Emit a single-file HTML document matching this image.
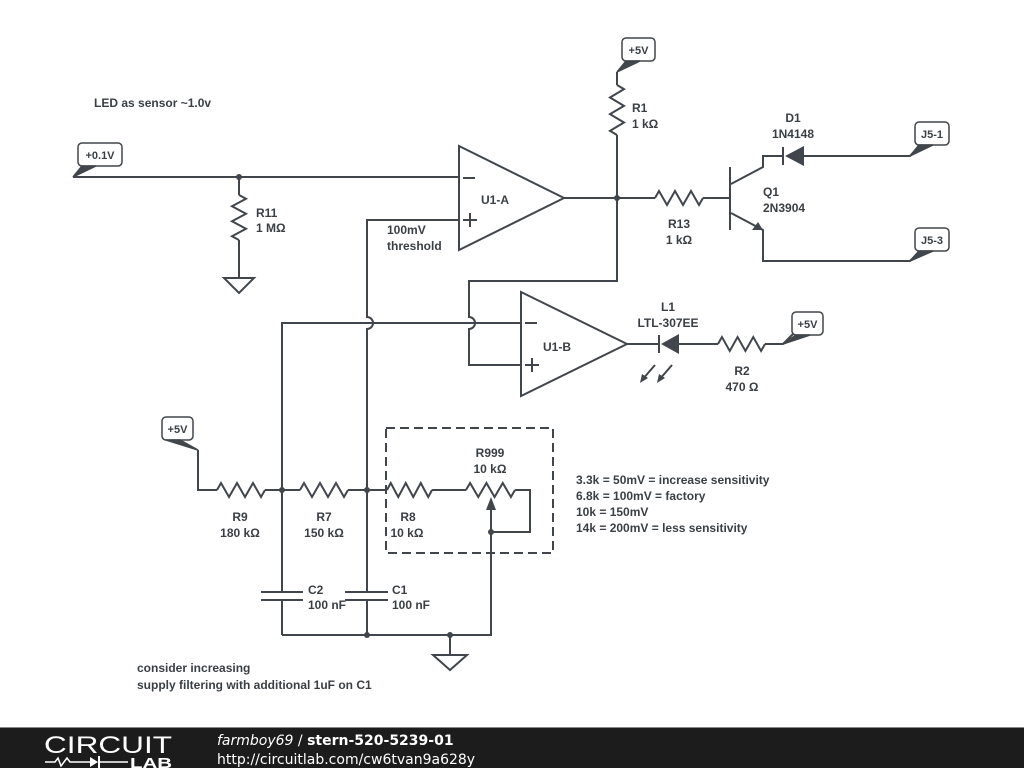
<!DOCTYPE html>
<html><head><meta charset="utf-8"><style>
html,body{margin:0;padding:0;background:#fff;width:1024px;height:768px;overflow:hidden}
svg{display:block}
text{font-family:"Liberation Sans",sans-serif;font-size:12px;font-weight:bold;fill:#3a3f44;stroke:none}
</style></head><body>
<svg id="s" width="1024" height="768" viewBox="0 0 1024 768" xmlns="http://www.w3.org/2000/svg">
<g id="w" stroke="#40464b" stroke-width="2" fill="none">
<path d="M459 146 L564 198 L459 250 Z"/>
<path d="M463 178 h12 M463 220 h14 M470 213 v14"/>
<path d="M73 177 H459"/>
<path d="M239 177 V195 M239 240 V278"/>
<path d="M224 278 H254 L239 293 Z"/>
<path d="M459 220 H367 V317 A6 6 0 0 1 367 329 V592 M367 600 V635"/>
<path d="M564 198 H655 M703 198 H730"/>
<path d="M617 72 V85 M617 135 V281 H469 V317 A6 6 0 0 1 469 329 V365 H521"/>
<path d="M521 292 L627 344 L521 396 Z"/>
<path d="M525 323 h12 M525 365 h14 M532 358 v14"/>
<path d="M282 592 V323 H521 M282 600 V635"/>
<path d="M730 167 V230 M731 184 L763 167 V156 H783 M731 213 L763 230 V261 H910 L920 251"/>
<path d="M783 147 V165"/>
<path d="M804 156 H910 L920 146"/>
<path d="M627 344 H659 M659 335 V353 M679 344 H718 M765 344 H783 L793 334"/>
<path d="M655 365 L642 380 M672 365 L659 380"/>
<path d="M198 450 V490 H217 M265 490 H300 M348 490 H387 M432 490 H466 M515 490 H530 V532 H491 M491 505 V635 H282"/>
<path d="M261 592 H303 M261 600 H303 M345 592 H388 M345 600 H388"/>
<path d="M450 635 V655 M433 655 H467 L450 670 Z"/>
<path d="M386 428 H553 V553 H386 Z" stroke-dasharray="9,5"/>
</g>
<g fill="#40464b">
<circle cx="239" cy="177" r="3"/><circle cx="617" cy="198" r="3"/>
<circle cx="282" cy="490" r="3"/><circle cx="367" cy="490" r="3"/>
<circle cx="367" cy="635" r="3"/><circle cx="450" cy="635" r="3"/><circle cx="491" cy="532" r="3"/>
<polygon points="804,146 804,166 785,156"/>
<polygon points="679,334 679,354 661,344"/>
<polygon points="763,230 752,230 758,222"/>
<polygon points="491,497 486,510 496,510"/>
<polygon points="640,383 642,374 648,378"/>
<polygon points="657,383 659,374 665,378"/>
</g>
<g id="flags" stroke="#40464b" stroke-width="1.5" fill="#fff"></g>
<text x="94" y="107">LED as sensor ~1.0v</text>
<text x="256" y="217">R11</text><text x="256" y="232">1 MΩ</text>
<text x="481" y="204">U1-A</text>
<text x="387" y="234">100mV</text><text x="387" y="250">threshold</text>
<text x="632" y="112">R1</text><text x="632" y="128">1 kΩ</text>
<text x="679" y="228" text-anchor="middle">R13</text><text x="679" y="244" text-anchor="middle">1 kΩ</text>
<text x="763" y="196">Q1</text><text x="763" y="212">2N3904</text>
<text x="793" y="122" text-anchor="middle">D1</text><text x="793" y="138" text-anchor="middle">1N4148</text>
<text x="543" y="351">U1-B</text>
<text x="668" y="311" text-anchor="middle">L1</text><text x="668" y="327" text-anchor="middle">LTL-307EE</text>
<text x="742" y="375" text-anchor="middle">R2</text><text x="742" y="391" text-anchor="middle">470 Ω</text>
<text x="240" y="521" text-anchor="middle">R9</text><text x="240" y="537" text-anchor="middle">180 kΩ</text>
<text x="324" y="521" text-anchor="middle">R7</text><text x="324" y="537" text-anchor="middle">150 kΩ</text>
<text x="408" y="521" text-anchor="middle">R8</text><text x="407" y="537" text-anchor="middle">10 kΩ</text>
<text x="490" y="457" text-anchor="middle">R999</text><text x="490" y="473" text-anchor="middle">10 kΩ</text>
<text x="308" y="594">C2</text><text x="308" y="609">100 nF</text>
<text x="392" y="594">C1</text><text x="392" y="609">100 nF</text>
<text x="576" y="484">3.3k = 50mV = increase sensitivity</text>
<text x="576" y="500">6.8k = 100mV = factory</text>
<text x="576" y="516">10k = 150mV</text>
<text x="576" y="532">14k = 200mV = less sensitivity</text>
<text x="137" y="672">consider increasing</text>
<text x="137" y="689">supply filtering with additional 1uF on C1</text>
<rect x="0" y="728" width="1024" height="40" fill="#1c1c1c"/>
<rect x="0" y="727" width="1024" height="1" fill="#888"/>
<text x="44" y="753" style="font-size:24px;font-weight:normal;fill:#fff" textLength="128" lengthAdjust="spacingAndGlyphs">CIRCUIT</text>
<path d="M45 762 H55 l3 -4 l3 8 l3 -4 l3 -4 l3 4 H90 M100 762 H128" stroke="#fff" stroke-width="1.5" fill="none"/>
<polygon points="90,757 90,767 98,762" fill="#fff"/><rect x="98" y="756" width="2" height="12" fill="#fff"/>
<text x="130" y="768" style="font-size:15px;font-weight:bold;fill:#fff" textLength="42" lengthAdjust="spacingAndGlyphs">LAB</text>
<text x="217" y="745" style="font-family:'DejaVu Sans',sans-serif;font-size:14px;font-weight:normal;fill:#fff"><tspan font-style="italic">farmboy69</tspan> / <tspan font-weight="bold">stern-520-5239-01</tspan></text>
<text x="217" y="764" style="font-family:'DejaVu Sans',sans-serif;font-size:14px;font-weight:normal;fill:#fff">http://circuitlab.com/cw6tvan9a628y</text>
</svg>
<script>
var NS="http://www.w3.org/2000/svg",w=document.getElementById("w");
function p(d){var e=document.createElementNS(NS,"path");e.setAttribute("d",d);w.appendChild(e);}
function zh(x1,x2,y){var s=(x2-x1)/12,d="M"+x1+" "+y;[1,3,5,7,9,11].forEach(function(k,i){d+=" L"+(x1+k*s)+" "+(y+(i%2?7:-7));});d+=" L"+x2+" "+y;p(d);}
function zv(x,y1,y2){var s=(y2-y1)/12,d="M"+x+" "+y1;[1,3,5,7,9,11].forEach(function(k,i){d+=" L"+(x+(i%2?-7:7))+" "+(y1+k*s);});d+=" L"+x+" "+y2;p(d);}
zv(239,195,240);zv(617,85,135);zh(655,703,198);zh(718,765,344);
zh(217,265,490);zh(300,348,490);zh(387,432,490);zh(466,515,490);
var f=document.getElementById("flags");
function flag(x,y,wd,t,px,py){var r=document.createElementNS(NS,"rect");r.setAttribute("x",x);r.setAttribute("y",y);r.setAttribute("width",wd);r.setAttribute("height",23);r.setAttribute("rx",4);f.appendChild(r);
var g=document.createElementNS(NS,"polygon");g.setAttribute("points",(x+4)+","+(y+23)+" "+(x+18)+","+(y+23)+" "+px+","+py);g.setAttribute("fill","#40464b");f.appendChild(g);
var tx=document.createElementNS(NS,"text");tx.setAttribute("x",x+wd/2);tx.setAttribute("y",y+16);tx.setAttribute("text-anchor","middle");tx.textContent=t;tx.setAttribute("style","font-size:11px;stroke:none;fill:#3a3f44");f.appendChild(tx);}
flag(78,143,44,"+0.1V",73,177);flag(622,38,33,"+5V",617,72);
flag(915,122,34,"J5-1",910,156);flag(915,228,34,"J5-3",910,261);
flag(792,312,31,"+5V",783,344);flag(162,417,31,"+5V",198,450);
</script>
</body></html>
